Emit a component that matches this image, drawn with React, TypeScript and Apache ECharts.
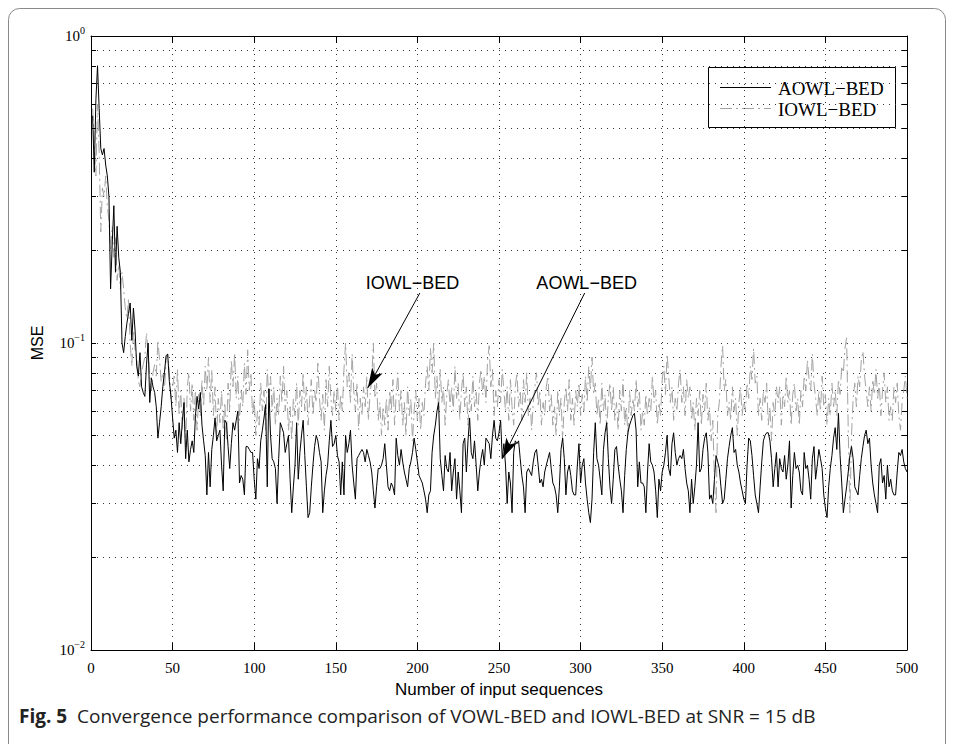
import React, { useEffect, useRef } from "react";
import * as echarts from "echarts";

const xMin = 0;
const xMax = 500;
const xStep = 50;
const yMajorTicks = [0.01, 0.1, 1];
const yMinorTicks = [0.01, 0.02, 0.03, 0.04, 0.05, 0.06, 0.07, 0.08, 0.09, 0.1, 0.2, 0.3, 0.4, 0.5, 0.6, 0.7, 0.8, 0.9, 1];
const seriesNames = ["AOWL−BED", "IOWL−BED"];

const aowl = [
  0.55, 0.36, 0.62, 0.80, 0.58, 0.43, 0.41, 0.43, 0.38, 0.35,
  0.30, 0.15, 0.21, 0.28, 0.17, 0.24, 0.19, 0.17, 0.10, 0.093,
  0.105, 0.116, 0.125, 0.135, 0.102, 0.13, 0.11, 0.084, 0.078, 0.093,
  0.072, 0.069, 0.067, 0.085, 0.10, 0.064, 0.077, 0.072, 0.069, 0.062,
  0.049, 0.055, 0.062, 0.072, 0.08, 0.091, 0.092, 0.075, 0.067, 0.057,
  0.049, 0.052, 0.044, 0.055, 0.047, 0.056, 0.064, 0.042, 0.052, 0.041,
  0.045, 0.048, 0.044, 0.058, 0.067, 0.061, 0.069, 0.054, 0.048, 0.043,
  0.032, 0.044, 0.034, 0.045, 0.050, 0.057, 0.048, 0.050, 0.052, 0.040,
  0.033, 0.056, 0.055, 0.046, 0.039, 0.047, 0.055, 0.052, 0.056, 0.060,
  0.035, 0.037, 0.036, 0.032, 0.046, 0.046, 0.045, 0.044, 0.044, 0.036,
  0.031, 0.042, 0.039, 0.048, 0.052, 0.057, 0.063, 0.034, 0.071, 0.050,
  0.042, 0.041, 0.039, 0.030, 0.042, 0.055, 0.053, 0.051, 0.044, 0.047,
  0.050, 0.036, 0.028, 0.034, 0.040, 0.055, 0.036, 0.044, 0.050, 0.056,
  0.043, 0.034, 0.027, 0.028, 0.034, 0.040, 0.046, 0.050, 0.048, 0.044,
  0.041, 0.028, 0.033, 0.037, 0.040, 0.048, 0.056, 0.046, 0.047, 0.050,
  0.043, 0.041, 0.032, 0.041, 0.032, 0.050, 0.044, 0.047, 0.052, 0.040,
  0.035, 0.031, 0.042, 0.043, 0.044, 0.045, 0.044, 0.041, 0.045, 0.043,
  0.041, 0.038, 0.033, 0.029, 0.034, 0.039, 0.039, 0.040, 0.042, 0.047,
  0.040, 0.034, 0.033, 0.035, 0.034, 0.032, 0.049, 0.043, 0.040, 0.045,
  0.041, 0.038, 0.036, 0.034, 0.039, 0.041, 0.044, 0.049, 0.045, 0.041,
  0.037, 0.036, 0.035, 0.033, 0.031, 0.028, 0.032, 0.033, 0.044, 0.050,
  0.054, 0.060, 0.064, 0.042, 0.037, 0.033, 0.043, 0.039, 0.038, 0.044,
  0.033, 0.038, 0.042, 0.031, 0.038, 0.033, 0.028, 0.047, 0.049, 0.038,
  0.048, 0.057, 0.044, 0.042, 0.048, 0.040, 0.033, 0.038, 0.042, 0.045,
  0.040, 0.049, 0.048, 0.047, 0.042, 0.050, 0.056, 0.049, 0.048, 0.051,
  0.056, 0.042, 0.047, 0.040, 0.030, 0.038, 0.035, 0.028, 0.044, 0.048,
  0.047, 0.048, 0.042, 0.037, 0.034, 0.028, 0.038, 0.039, 0.038, 0.037,
  0.041, 0.044, 0.045, 0.040, 0.035, 0.036, 0.034, 0.038, 0.040, 0.042,
  0.044, 0.039, 0.035, 0.034, 0.032, 0.028, 0.034, 0.045, 0.049, 0.042,
  0.032, 0.038, 0.040, 0.037, 0.033, 0.032, 0.032, 0.040, 0.047, 0.035,
  0.040, 0.042, 0.035, 0.031, 0.028, 0.026, 0.031, 0.044, 0.055, 0.042,
  0.040, 0.036, 0.032, 0.045, 0.051, 0.055, 0.042, 0.034, 0.030, 0.036,
  0.045, 0.046, 0.040, 0.036, 0.033, 0.028, 0.037, 0.045, 0.051, 0.054,
  0.056, 0.058, 0.059, 0.052, 0.034, 0.041, 0.035, 0.035, 0.034, 0.028,
  0.038, 0.047, 0.041, 0.040, 0.038, 0.033, 0.027, 0.036, 0.033, 0.038,
  0.040, 0.044, 0.050, 0.039, 0.037, 0.047, 0.051, 0.044, 0.040, 0.042,
  0.043, 0.042, 0.045, 0.039, 0.035, 0.033, 0.028, 0.036, 0.030, 0.034,
  0.040, 0.055, 0.038, 0.039, 0.045, 0.049, 0.051, 0.044, 0.031, 0.032,
  0.030, 0.036, 0.043, 0.041, 0.039, 0.034, 0.030, 0.031, 0.036, 0.042,
  0.046, 0.050, 0.053, 0.044, 0.045, 0.040, 0.038, 0.035, 0.033, 0.031,
  0.030, 0.040, 0.049, 0.048, 0.043, 0.037, 0.032, 0.030, 0.028, 0.034,
  0.041, 0.048, 0.050, 0.051, 0.051, 0.048, 0.042, 0.034, 0.039, 0.044,
  0.034, 0.042, 0.039, 0.038, 0.043, 0.036, 0.040, 0.048, 0.029, 0.037,
  0.044, 0.039, 0.040, 0.038, 0.033, 0.032, 0.044, 0.039, 0.040, 0.036,
  0.031, 0.042, 0.046, 0.036, 0.040, 0.045, 0.042, 0.039, 0.032, 0.029,
  0.027, 0.034, 0.039, 0.043, 0.049, 0.053, 0.045, 0.059, 0.043, 0.035,
  0.028, 0.031, 0.034, 0.038, 0.043, 0.046, 0.042, 0.034, 0.033, 0.032,
  0.037, 0.042, 0.046, 0.050, 0.052, 0.047, 0.049, 0.040, 0.035, 0.032,
  0.030, 0.028, 0.040, 0.042, 0.035, 0.037, 0.031, 0.040, 0.034, 0.036,
  0.033, 0.032, 0.032, 0.038, 0.044, 0.043, 0.045, 0.041, 0.039, 0.038,
];

const iowl = [
  0.58, 0.45, 0.35, 0.60, 0.42, 0.23, 0.32, 0.30, 0.35, 0.28,
  0.25, 0.20, 0.24, 0.19, 0.22, 0.16, 0.18, 0.15, 0.17, 0.15,
  0.13, 0.12, 0.14, 0.10, 0.084, 0.11, 0.095, 0.09, 0.075, 0.072,
  0.080, 0.085, 0.09, 0.108, 0.095, 0.078, 0.070, 0.080, 0.085, 0.078,
  0.102, 0.088, 0.075, 0.080, 0.070, 0.088, 0.092, 0.080, 0.066, 0.072,
  0.078, 0.062, 0.082, 0.058, 0.070, 0.052, 0.066, 0.046, 0.072, 0.080,
  0.060, 0.074, 0.056, 0.070, 0.052, 0.068, 0.058, 0.076, 0.062, 0.084,
  0.070, 0.090, 0.064, 0.082, 0.058, 0.072, 0.050, 0.066, 0.055, 0.070,
  0.052, 0.064, 0.048, 0.074, 0.060, 0.088, 0.072, 0.093, 0.066, 0.078,
  0.056, 0.070, 0.062, 0.086, 0.068, 0.095, 0.070, 0.080, 0.058, 0.066,
  0.050, 0.060, 0.054, 0.074, 0.060, 0.070, 0.052, 0.082, 0.066, 0.078,
  0.060, 0.072, 0.054, 0.066, 0.058, 0.078, 0.064, 0.084, 0.060, 0.070,
  0.052, 0.062, 0.048, 0.066, 0.058, 0.074, 0.054, 0.070, 0.062, 0.080,
  0.060, 0.072, 0.054, 0.066, 0.076, 0.058, 0.070, 0.064, 0.086, 0.066,
  0.056, 0.068, 0.052, 0.076, 0.062, 0.084, 0.066, 0.058, 0.070, 0.060,
  0.074, 0.056, 0.068, 0.060, 0.082, 0.100, 0.072, 0.080, 0.064, 0.092,
  0.070, 0.060, 0.074, 0.052, 0.066, 0.058, 0.072, 0.062, 0.078, 0.056,
  0.068, 0.076, 0.100, 0.066, 0.074, 0.056, 0.064, 0.050, 0.062, 0.054,
  0.066, 0.052, 0.070, 0.060, 0.076, 0.054, 0.068, 0.080, 0.060, 0.070,
  0.054, 0.064, 0.050, 0.072, 0.058, 0.066, 0.048, 0.060, 0.070, 0.056,
  0.066, 0.052, 0.064, 0.058, 0.074, 0.084, 0.070, 0.096, 0.080, 0.100,
  0.066, 0.078, 0.060, 0.082, 0.064, 0.072, 0.054, 0.068, 0.076, 0.062,
  0.072, 0.060, 0.084, 0.066, 0.074, 0.056, 0.070, 0.080, 0.062, 0.072,
  0.054, 0.068, 0.060, 0.078, 0.062, 0.070, 0.056, 0.074, 0.082, 0.068,
  0.078, 0.064, 0.088, 0.098, 0.072, 0.082, 0.058, 0.070, 0.062, 0.076,
  0.064, 0.082, 0.070, 0.060, 0.072, 0.056, 0.076, 0.062, 0.054, 0.072,
  0.080, 0.062, 0.070, 0.056, 0.076, 0.064, 0.080, 0.058, 0.066, 0.052,
  0.064, 0.072, 0.080, 0.062, 0.070, 0.054, 0.064, 0.058, 0.072, 0.078,
  0.060, 0.068, 0.054, 0.062, 0.050, 0.070, 0.058, 0.066, 0.048, 0.064,
  0.072, 0.060, 0.076, 0.056, 0.066, 0.054, 0.070, 0.062, 0.074, 0.058,
  0.068, 0.060, 0.078, 0.064, 0.084, 0.070, 0.090, 0.068, 0.074, 0.058,
  0.066, 0.054, 0.074, 0.060, 0.068, 0.052, 0.066, 0.074, 0.060, 0.072,
  0.056, 0.064, 0.052, 0.070, 0.060, 0.076, 0.054, 0.062, 0.050, 0.070,
  0.058, 0.066, 0.060, 0.076, 0.062, 0.070, 0.052, 0.060, 0.054, 0.068,
  0.058, 0.066, 0.060, 0.078, 0.064, 0.070, 0.054, 0.064, 0.058, 0.076,
  0.084, 0.068, 0.092, 0.078, 0.064, 0.072, 0.056, 0.066, 0.060, 0.074,
  0.082, 0.064, 0.072, 0.058, 0.076, 0.066, 0.072, 0.056, 0.064, 0.052,
  0.066, 0.058, 0.070, 0.054, 0.068, 0.060, 0.074, 0.056, 0.062, 0.048,
  0.056, 0.036, 0.028, 0.058, 0.064, 0.084, 0.098, 0.070, 0.076, 0.058,
  0.064, 0.056, 0.072, 0.060, 0.066, 0.050, 0.064, 0.072, 0.058, 0.066,
  0.060, 0.074, 0.066, 0.084, 0.076, 0.096, 0.074, 0.078, 0.058, 0.066,
  0.056, 0.070, 0.064, 0.074, 0.054, 0.062, 0.048, 0.064, 0.058, 0.072,
  0.064, 0.072, 0.054, 0.068, 0.062, 0.078, 0.064, 0.070, 0.054, 0.068,
  0.074, 0.060, 0.066, 0.054, 0.070, 0.062, 0.078, 0.070, 0.088, 0.076,
  0.070, 0.092, 0.074, 0.066, 0.058, 0.070, 0.060, 0.078, 0.062, 0.068,
  0.054, 0.066, 0.058, 0.074, 0.062, 0.070, 0.058, 0.076, 0.068, 0.084,
  0.080, 0.096, 0.104, 0.052, 0.028, 0.050, 0.066, 0.074, 0.062, 0.078,
  0.072, 0.088, 0.094, 0.078, 0.070, 0.062, 0.072, 0.060, 0.076, 0.068,
  0.082, 0.066, 0.074, 0.058, 0.070, 0.080, 0.064, 0.072, 0.056, 0.062,
  0.056, 0.072, 0.064, 0.074, 0.058, 0.052, 0.064, 0.070, 0.078, 0.066,
];

// annotation anchors in data coordinates
const annotationNames = ["IOWL−BED", "AOWL−BED"];
const annotationTextAt = [[197, 0.157], [303.7, 0.157]];
const arrowFrom = [[201.5, 0.1455], [302.5, 0.1455]];
const arrowTo = [[169.6, 0.0714], [252.3, 0.0422]];

const xAxisTitle = "Number of input sequences";
const yAxisTitle = "MSE";
const captionBold = "Fig. 5";
const captionRest = "Convergence performance comparison of VOWL-BED and IOWL-BED at SNR = 15 dB";

const SERIF = '"Liberation Serif", "Times New Roman", serif';
const SANS = '"Liberation Sans", Arial, sans-serif';
const DOTTED = [1, 5];
const GRAY = "#a3a3a3";
const DASHDOT = [12, 4, 2, 4];

function yLabel(v: number) {
  const e = Math.round(Math.log10(v));
  const sup = e === 0 ? "0" : "−" + String(-e);
  return "{b|10}{s|" + sup + "}";
}

export default function App() {
  const ref = useRef<HTMLDivElement>(null);
  useEffect(() => {
    if (!ref.current) return;
    const chart = echarts.init(ref.current, null, { renderer: "svg" });
    const axisCommon = {
      axisLine: { show: true, onZero: false, lineStyle: { color: "#000", width: 1 } },
    };
    const option: any = {
      animation: false,
      backgroundColor: "#fff",
      grid: { left: 91, top: 36, right: 47, bottom: 94, containLabel: false, outerBoundsMode: "none" },
      xAxis: [
        {
          type: "value",
          min: xMin,
          max: xMax,
          interval: xStep,
          position: "bottom",
          ...axisCommon,
          axisTick: { show: true, inside: true, length: 7, lineStyle: { color: "#000" } },
          axisLabel: { color: "#000", fontFamily: SERIF, fontSize: 15, margin: 10 },
          splitLine: { show: true, lineStyle: { color: "#333", type: DOTTED, width: 1 } },
          name: xAxisTitle,
          nameLocation: "middle",
          nameGap: 31,
          nameMoveOverlap: false,
          nameTextStyle: { color: "#000", fontFamily: SANS, fontSize: 17, verticalAlign: "top" },
        },
        {
          type: "value",
          min: xMin,
          max: xMax,
          interval: xStep,
          position: "top",
          ...axisCommon,
          axisTick: { show: true, inside: true, length: 7, lineStyle: { color: "#000" } },
          axisLabel: { show: false },
          splitLine: { show: false },
        },
      ],
      yAxis: [
        {
          type: "log",
          logBase: 10,
          min: 0.01,
          max: 1,
          position: "left",
          ...axisCommon,
          axisTick: { show: true, inside: true, length: 5, customValues: yMinorTicks, lineStyle: { color: "#000" } },
          axisLabel: {
            customValues: yMajorTicks,
            formatter: yLabel,
            margin: 6,
            rich: {
              b: { fontFamily: SERIF, fontSize: 15, color: "#000" },
              s: { fontFamily: SERIF, fontSize: 10, color: "#000", padding: [0, 0, 12, 0] },
            },
          },
          splitLine: { show: true, lineStyle: { color: "#333", type: DOTTED, width: 1 } },
          name: yAxisTitle,
          nameLocation: "middle",
          nameGap: 46,
          nameRotate: 90,
          nameMoveOverlap: false,
          nameTextStyle: { color: "#000", fontFamily: SANS, fontSize: 16 },
        },
        {
          type: "log",
          logBase: 10,
          min: 0.01,
          max: 1,
          position: "right",
          ...axisCommon,
          axisTick: { show: true, inside: true, length: 5, customValues: yMinorTicks, lineStyle: { color: "#000" } },
          axisLabel: { show: false },
          splitLine: { show: false },
        },
      ],
      series: [
        {
          name: seriesNames[1],
          type: "line",
          xAxisIndex: 0,
          yAxisIndex: 0,
          data: iowl.map((v, i) => [i + 1, v]),
          showSymbol: false,
          symbol: "none",
          lineStyle: { color: GRAY, width: 1, type: DASHDOT },
          z: 2,
        },
        {
          name: seriesNames[0],
          type: "line",
          xAxisIndex: 0,
          yAxisIndex: 0,
          data: aowl.map((v, i) => [i + 1, v]),
          showSymbol: false,
          symbol: "none",
          lineStyle: { color: "#000", width: 1 },
          z: 3,
          markLine: {
            silent: true,
            symbol: ["none", "arrow"],
            symbolSize: [9, 20],
            label: { show: false },
            lineStyle: { color: "#000", type: "solid", width: 1 },
            data: arrowFrom.map((f, k) => [{ coord: f }, { coord: arrowTo[k] }]),
          },
          markPoint: {
            silent: true,
            symbol: "circle",
            symbolSize: 1,
            itemStyle: { color: "rgba(0,0,0,0)" },
            label: { show: true, position: "inside", formatter: "{b}", color: "#000", fontFamily: SANS, fontSize: 18 },
            data: annotationNames.map((n, k) => ({ name: n, coord: annotationTextAt[k] })),
          },
        },
      ],
      graphic: [
        {
          type: "rect",
          z: -10,
          shape: { x: 8.5, y: 8.5, width: 937, height: 800, r: 11 },
          style: { fill: "none", stroke: "#8a8a8a", lineWidth: 1 },
        },
        {
          type: "group",
          x: 708,
          y: 67,
          z: 100,
          children: [
            { type: "rect", shape: { x: 0.5, y: 0.5, width: 187, height: 60 }, style: { fill: "#fff", stroke: "#000", lineWidth: 1 } },
            { type: "line", shape: { x1: 12, y1: 20.5, x2: 63, y2: 20.5 }, style: { stroke: "#000", lineWidth: 1 } },
            { type: "text", x: 70, y: 21, style: { text: seriesNames[0], font: '19px "Liberation Serif"', fill: "#000", verticalAlign: "middle" } },
            { type: "line", shape: { x1: 12, y1: 41.5, x2: 63, y2: 41.5 }, style: { stroke: GRAY, lineWidth: 1, lineDash: DASHDOT } },
            { type: "text", x: 70, y: 42, style: { text: seriesNames[1], font: '19px "Liberation Serif"', fill: "#000", verticalAlign: "middle" } },
          ],
        },
        {
          type: "text",
          x: 19,
          y: 716,
          style: {
            text: "{b|" + captionBold + "}  " + captionRest,
            font: '19px "Open Sans"',
            fill: "#222",
            verticalAlign: "middle",
            rich: { b: { fontWeight: "bold", fontFamily: "Open Sans", fontSize: 19, fill: "#222" } },
          },
        },
      ],
    };
    chart.setOption(option);
    return () => chart.dispose();
  }, []);
  return <div ref={ref} style={{ position: "absolute", left: 0, top: 0, width: 954, height: 744 }} />;
}
